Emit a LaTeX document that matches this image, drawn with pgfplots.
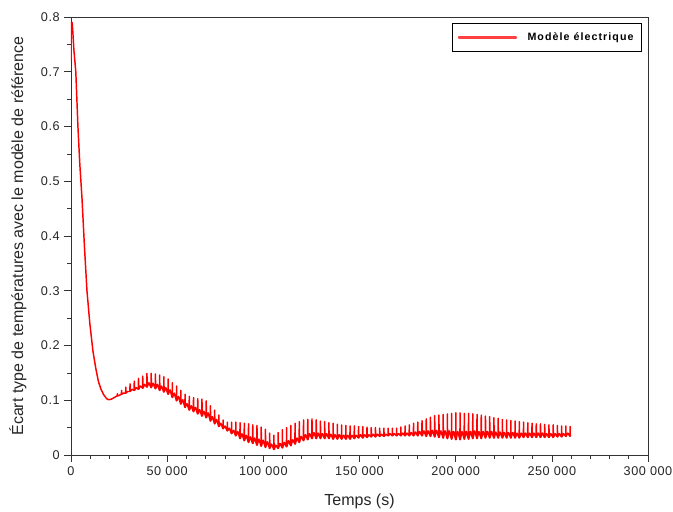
\documentclass[border=0pt]{standalone}
\usepackage{pgfplots}
\pgfplotsset{compat=1.18}
\usepackage{fontspec}
\setmainfont{Liberation Sans}

\begin{document}
\begin{tikzpicture}
\begin{axis}[
    name=ax,
    scale only axis,
    width=432.75pt, height=328.5pt,
    xmin=0, xmax=300000,
    ymin=0, ymax=0.8,
    scaled ticks=false,
    xtick={0,50000,100000,150000,200000,250000,300000},
    xticklabels={0,50\,\,000,100\,\,000,150\,\,000,200\,\,000,250\,\,000,300\,\,000},
    ytick={0,0.1,0.2,0.3,0.4,0.5,0.6,0.7,0.8},
    yticklabels={0,0.1,0.2,0.3,0.4,0.5,0.6,0.7,0.8},
    minor x tick num=4,
    minor y tick num=1,
    tick align=outside,
    xtick pos=bottom, ytick pos=left,
    major tick length=5pt, minor tick length=2.8pt,
    tick style={black!80, line width=0.5pt},
    axis line style={black!80, line width=0.6pt},
    tick label style={font=\fontsize{9.5}{11}\selectfont\addfontfeatures{LetterSpace=4}, black!85},
    label style={font=\fontsize{12}{14}\selectfont, black!85},
    xlabel={Temps (s)},
    ylabel={Écart type de températures avec le modèle de référence},
    xlabel style={yshift=-7pt},
    ylabel style={yshift=4pt},
    legend style={at={(1,1)}, anchor=north east, xshift=-4.5pt, yshift=-4.5pt,
        draw=black, line width=0.6pt, inner xsep=4pt, inner ysep=5pt,
        font=\fontsize{8}{9}\selectfont\bfseries\addfontfeatures{LetterSpace=10}},
    /tikz/every odd column/.append style={column sep=6pt},
]
\addplot[draw=red, color=red, line width=1.1pt, line join=round,
    legend image code/.code={\fill[red!75] (0pt,-0.35pt) rectangle (43pt,0.35pt);}]
coordinates {
(0,0.72) (150,0.79) (600,0.79) (1000,0.77) (1500,0.74) (2500,0.70)
(3600,0.60) (4600,0.53) (5700,0.47) (7000,0.38) (8300,0.30) (9800,0.24)
(11400,0.19) (12800,0.16) (14200,0.135) (15600,0.12) (17000,0.11)
(18500,0.103) (19500,0.101) (21000,0.102) (22500,0.105)
(24000,0.108) (24100,0.112) (24200,0.108) (25100,0.109)
(26200,0.111) (26300,0.118) (26400,0.111) (27300,0.113)
(28400,0.113) (28500,0.124) (28600,0.113) (29500,0.116)
(30600,0.116) (30700,0.130) (30800,0.116) (31700,0.120)
(32800,0.118) (32900,0.135) (33000,0.118) (33900,0.123)
(35000,0.120) (35100,0.140) (35200,0.120) (36100,0.126)
(37200,0.122) (37300,0.144) (37400,0.122) (38300,0.129)
(39400,0.124) (39500,0.149) (39600,0.124) (40500,0.132)
(41600,0.123) (41700,0.149) (41800,0.123) (42700,0.131)
(43800,0.121) (43900,0.148) (44000,0.121) (44900,0.129)
(46000,0.118) (46100,0.146) (46200,0.118) (47100,0.126)
(48200,0.115) (48300,0.143) (48400,0.115) (49300,0.123)
(50400,0.111) (50500,0.139) (50600,0.111) (51500,0.119)
(52600,0.105) (52700,0.132) (52800,0.105) (53700,0.113)
(54800,0.099) (54900,0.126) (55000,0.099) (55900,0.107)
(57000,0.093) (57100,0.118) (57200,0.093) (58100,0.101)
(59200,0.087) (59300,0.111) (59400,0.087) (60300,0.094)
(61400,0.082) (61500,0.107) (61600,0.082) (62500,0.090)
(63600,0.079) (63700,0.105) (63800,0.079) (64700,0.087)
(65800,0.075) (65900,0.103) (66000,0.075) (66900,0.083)
(68000,0.071) (68100,0.102) (68200,0.071) (69100,0.080)
(70200,0.068) (70300,0.099) (70400,0.068) (71300,0.077)
(72400,0.062) (72500,0.090) (72600,0.062) (73500,0.070)
(74600,0.057) (74700,0.082) (74800,0.057) (75700,0.065)
(76800,0.052) (76900,0.073) (77000,0.052) (77900,0.058)
(79000,0.048) (79100,0.064) (79200,0.048) (80100,0.053)
(81200,0.044) (81300,0.060) (81400,0.044) (82300,0.049)
(83400,0.039) (83500,0.060) (83600,0.039) (84500,0.045)
(85600,0.035) (85700,0.060) (85800,0.035) (86700,0.043)
(87800,0.030) (87900,0.059) (88000,0.030) (88900,0.039)
(90000,0.026) (90100,0.058) (90200,0.026) (91100,0.036)
(92200,0.023) (92300,0.057) (92400,0.023) (93300,0.033)
(94400,0.021) (94500,0.055) (94600,0.021) (95500,0.031)
(96600,0.018) (96700,0.054) (96800,0.018) (97700,0.029)
(98800,0.016) (98900,0.051) (99000,0.016) (99900,0.027)
(101000,0.014) (101100,0.047) (101200,0.014) (102100,0.024)
(103200,0.012) (103300,0.040) (103400,0.012) (104300,0.020)
(105400,0.010) (105500,0.036) (105600,0.010) (106500,0.018)
(107600,0.012) (107700,0.041) (107800,0.012) (108700,0.021)
(109800,0.013) (109900,0.046) (110000,0.013) (110900,0.023)
(112000,0.015) (112100,0.050) (112200,0.015) (113100,0.026)
(114200,0.017) (114300,0.054) (114400,0.017) (115300,0.028)
(116400,0.020) (116500,0.058) (116600,0.020) (117500,0.031)
(118600,0.023) (118700,0.061) (118800,0.023) (119700,0.034)
(120800,0.026) (120900,0.064) (121000,0.026) (121900,0.037)
(123000,0.028) (123100,0.065) (123200,0.028) (124100,0.039)
(125200,0.030) (125300,0.066) (125400,0.030) (126300,0.041)
(127400,0.030) (127500,0.064) (127600,0.030) (128500,0.040)
(129600,0.030) (129700,0.062) (129800,0.030) (130700,0.039)
(131800,0.030) (131900,0.061) (132000,0.030) (132900,0.039)
(134000,0.030) (134100,0.059) (134200,0.030) (135100,0.038)
(136200,0.029) (136300,0.058) (136400,0.029) (137300,0.037)
(138400,0.029) (138500,0.056) (138600,0.029) (139500,0.037)
(140600,0.029) (140700,0.055) (140800,0.029) (141700,0.036)
(142800,0.029) (142900,0.054) (143000,0.029) (143900,0.036)
(145000,0.029) (145100,0.053) (145200,0.029) (146100,0.036)
(147200,0.030) (147300,0.053) (147400,0.030) (148300,0.036)
(149400,0.031) (149500,0.052) (149600,0.031) (150500,0.037)
(151600,0.031) (151700,0.052) (151800,0.031) (152700,0.037)
(153800,0.032) (153900,0.051) (154000,0.032) (154900,0.037)
(156000,0.033) (156100,0.050) (156200,0.033) (157100,0.038)
(158200,0.033) (158300,0.050) (158400,0.033) (159300,0.038)
(160400,0.034) (160500,0.049) (160600,0.034) (161500,0.038)
(162600,0.034) (162700,0.049) (162800,0.034) (163700,0.038)
(164800,0.035) (164900,0.049) (165000,0.035) (165900,0.039)
(167000,0.035) (167100,0.049) (167200,0.035) (168100,0.039)
(169200,0.035) (169300,0.049) (169400,0.035) (170300,0.039)
(171400,0.035) (171500,0.051) (171600,0.035) (172500,0.040)
(173600,0.035) (173700,0.053) (173800,0.035) (174700,0.040)
(175800,0.035) (175900,0.055) (176000,0.035) (176900,0.041)
(178000,0.035) (178100,0.058) (178200,0.035) (179100,0.042)
(180200,0.035) (180300,0.060) (180400,0.035) (181300,0.043)
(182400,0.035) (182500,0.063) (182600,0.035) (183500,0.044)
(184600,0.034) (184700,0.066) (184800,0.034) (185700,0.044)
(186800,0.034) (186900,0.069) (187000,0.034) (187900,0.045)
(189000,0.033) (189100,0.072) (189200,0.033) (190100,0.045)
(191200,0.032) (191300,0.073) (191400,0.032) (192300,0.044)
(193400,0.031) (193500,0.074) (193600,0.031) (194500,0.044)
(195600,0.030) (195700,0.075) (195800,0.030) (196700,0.044)
(197800,0.029) (197900,0.076) (198000,0.029) (198900,0.043)
(200000,0.028) (200100,0.077) (200200,0.028) (201100,0.043)
(202200,0.028) (202300,0.077) (202400,0.028) (203300,0.043)
(204400,0.029) (204500,0.076) (204600,0.029) (205500,0.043)
(206600,0.029) (206700,0.076) (206800,0.029) (207700,0.043)
(208800,0.030) (208900,0.075) (209000,0.030) (209900,0.044)
(211000,0.030) (211100,0.074) (211200,0.030) (212100,0.043)
(213200,0.030) (213300,0.073) (213400,0.030) (214300,0.043)
(215400,0.031) (215500,0.071) (215600,0.031) (216500,0.043)
(217600,0.031) (217700,0.070) (217800,0.031) (218700,0.043)
(219800,0.031) (219900,0.068) (220000,0.031) (220900,0.042)
(222000,0.031) (222100,0.067) (222200,0.031) (223100,0.042)
(224200,0.031) (224300,0.065) (224400,0.031) (225300,0.041)
(226400,0.031) (226500,0.064) (226600,0.031) (227500,0.041)
(228600,0.031) (228700,0.063) (228800,0.031) (229700,0.041)
(230800,0.031) (230900,0.062) (231000,0.031) (231900,0.040)
(233000,0.031) (233100,0.061) (233200,0.031) (234100,0.040)
(235200,0.032) (235300,0.060) (235400,0.032) (236300,0.040)
(237400,0.032) (237500,0.059) (237600,0.032) (238500,0.040)
(239600,0.032) (239700,0.058) (239800,0.032) (240700,0.040)
(241800,0.032) (241900,0.057) (242000,0.032) (242900,0.040)
(244000,0.032) (244100,0.057) (244200,0.032) (245100,0.040)
(246200,0.032) (246300,0.056) (246400,0.032) (247300,0.039)
(248400,0.032) (248500,0.055) (248600,0.032) (249500,0.039)
(250600,0.032) (250700,0.055) (250800,0.032) (251700,0.039)
(252800,0.033) (252900,0.054) (253000,0.033) (253900,0.039)
(255000,0.033) (255100,0.053) (255200,0.033) (256100,0.039)
(257200,0.034) (257300,0.053) (257400,0.034) (258300,0.040)
(259400,0.034) (259500,0.052) (259600,0.034)
};
\addlegendentry{Modèle électrique}
\end{axis}
\pgfresetboundingbox
\path ([shift={(-53.25pt,-42.75pt)}]ax.south west) rectangle ([shift={(18.75pt,12.75pt)}]ax.north east);
\end{tikzpicture}
\end{document}
